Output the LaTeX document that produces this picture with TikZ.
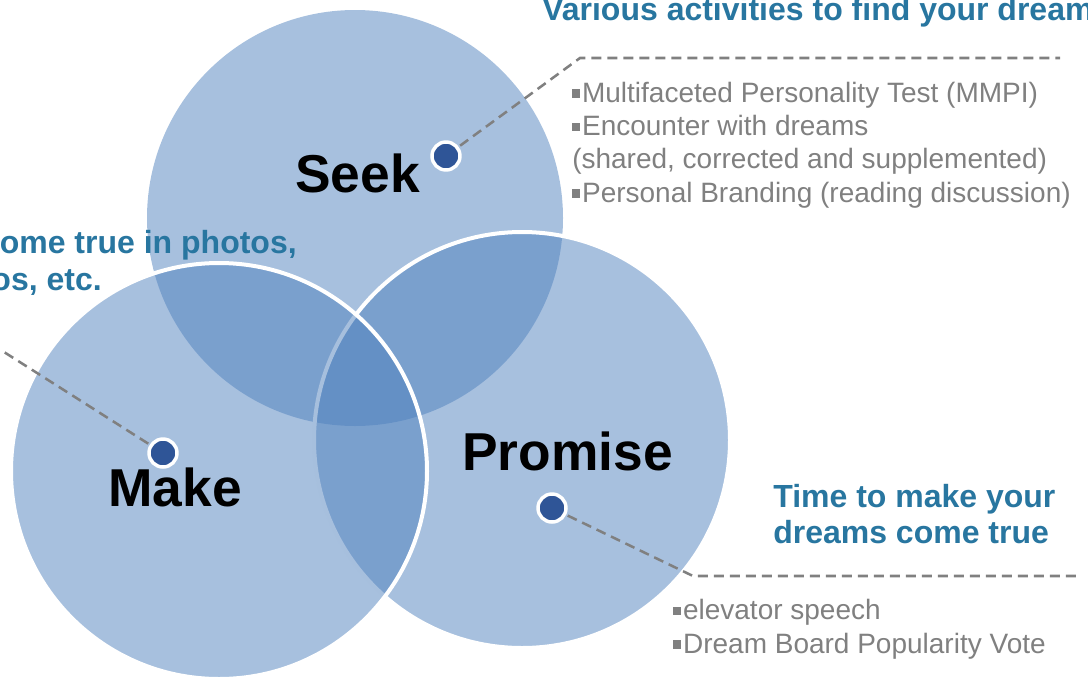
\documentclass[tikz,border=0pt]{standalone}
\usepackage{fontspec}
\setmainfont{Liberation Sans}
\usetikzlibrary{positioning}

\definecolor{vennblue}{RGB}{79,129,189}
\definecolor{dotblue}{RGB}{47,85,151}
\definecolor{headblue}{RGB}{40,118,160}
\definecolor{leadgray}{RGB}{128,128,128}
\newcommand{\sqbul}{\rule[0.16em]{0.29em}{0.29em}\hspace{0.06em}}

\begin{document}
\begin{tikzpicture}[x=0.75pt, y=-0.75pt]
        % Estilos
        \tikzstyle{circ} = [circle, fill=vennblue, fill opacity=0.5, minimum size=312pt, inner sep=0pt]
        \tikzstyle{rim} = [draw=white, line width=3pt]
        \tikzstyle{spot} = [circle, fill=dotblue, draw=white, line width=2.6pt, minimum size=21pt, inner sep=0pt]
        \tikzstyle{big} = [font=\fontsize{40}{46}\selectfont\bfseries, text=black, inner sep=0pt]
        \tikzstyle{head} = [font=\fontsize{24}{27}\selectfont\bfseries, text=headblue, inner sep=0pt, align=left]
        \tikzstyle{list} = [font=\fontsize{21}{25}\selectfont, text=leadgray, inner sep=0pt, align=left]
        \tikzstyle{leader} = [draw=leadgray, line width=1.9pt, dash pattern=on 7.5pt off 4.5pt, shorten <=1.3pt]

        \useasboundingbox (0,0) rectangle (1088,679);

        % Circles
        \node at (355,218) [circ] (seek){};
        \node at (522,440) [circ, rim] (promise){};
        \node at (219,471) [circ, rim] (make){};

        % Labels
        \node at (295,192) [big, anchor=base west] (seekLabel){Seek};
        \node at (462,470) [big, anchor=base west] (promiseLabel){Promise};
        \node at (108,506) [big, anchor=base west] (makeLabel){Make};

        % Headings (base = last line)
        \node at (542,20) [head, anchor=base west] (seekHead){Various activities to find your dream};
        \node at (773,543) [head, anchor=base west] (promiseHead){Time to make your\\dreams come true};
        \node at (297,253) [head, anchor=base east] (makeHead1){come true in photos,};
        \node at (102,290) [head, anchor=base east] (makeHead2){os, etc.};

        % Lists (base = last line)
        \node at (572,202) [list, anchor=base west] (seekList){\sqbul Multifaceted Personality Test (MMPI)\\
          \sqbul Encounter with dreams\\
          (shared, corrected and supplemented)\\
          \sqbul Personal Branding (reading discussion)};
        \node at (673,653) [list, anchor=base west] (promiseList){\sqbul elevator speech\\
          \sqbul Dream Board Popularity Vote};

        % Dots
        \node [spot, on grid, above right=46.5pt and 68.25pt of seek] (seekDot){};
        \node [spot, on grid, below right=51pt and 22.5pt of promise] (promiseDot){};
        \node [spot, on grid, above left=13.5pt and 42pt of make] (makeDot){};

        % Leader corners
        \coordinate (seekBend) at (580,58);
        \coordinate (seekEnd) at (1060,58);
        \coordinate (promiseBend) at (693,576);
        \coordinate (promiseEnd) at (1078,576);
        \coordinate (makeBend) at (4,352);
        \coordinate (makeEnd) at (-10,352);

        % Lines
        \draw [leader] (seekDot) -- (seekBend) -- (seekEnd);
        \draw [leader] (promiseDot) -- (promiseBend) -- (promiseEnd);
        \draw [leader] (makeDot) -- (makeBend) -- (makeEnd);

      \end{tikzpicture}
\end{document}
